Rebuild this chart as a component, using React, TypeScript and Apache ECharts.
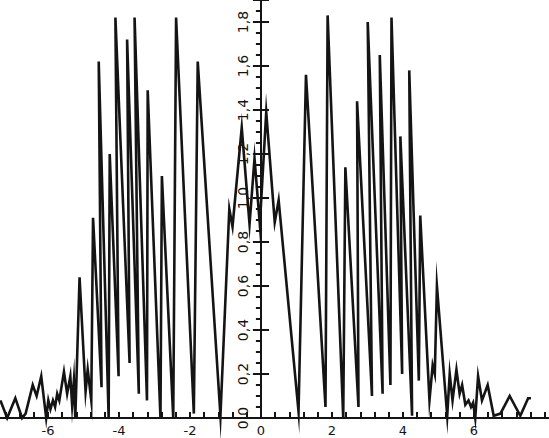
import React, { useEffect, useRef } from "react";
import * as echarts from "echarts";

// Curve (x in axis units, y in axis units), in drawing order
const xValues: number[] = [
  -7.34, -7.15, -6.92, -6.73, -6.63, -6.43, -6.32, -6.19, -6.05, -5.99,
  -5.93, -5.86, -5.80, -5.74, -5.68, -5.55, -5.46, -5.37, -5.32, -5.27,
  -5.23, -5.11, -4.94, -4.88, -4.78, -4.73, -4.49, -4.57, -4.29, -4.26,
  -4.01, -4.10, -3.70, -3.77, -3.44, -3.56, -3.21, -3.19, -2.83, -2.79,
  -2.47, -2.39, -1.89, -1.78, -1.14, -0.89, -0.80, -0.54, -0.32, -0.18,
  -0.03, 0.15, 0.39, 0.50, 1.06, 1.27, 1.82, 1.88, 2.32, 2.38,
  2.75, 2.71, 3.13, 3.01, 3.43, 3.35, 3.65, 3.68, 3.98, 3.93,
  4.26, 4.18, 4.45, 4.49, 4.75, 4.84, 4.90, 4.96, 5.25, 5.32,
  5.40, 5.51, 5.60, 5.67, 5.76, 5.85, 5.92, 5.98, 6.04, 6.12,
  6.23, 6.39, 6.56, 6.75, 7.01, 7.31, 7.53, 7.61,
];
const yValues: number[] = [
  0.08, 0.0, 0.09, 0.0, 0.02, 0.15, 0.10, 0.19, 0.0, 0.08,
  0.04, 0.08, 0.05, 0.11, 0.08, 0.21, 0.11, 0.19, 0.06, 0.17,
  0.0, 0.64, 0.12, 0.22, 0.08, 0.91, 0.14, 1.62, 0.0, 1.20,
  0.19, 1.82, 0.25, 1.72, 0.11, 1.82, 0.08, 1.49, 0.0, 1.10,
  0.0, 1.82, 0.02, 1.62, 0.01, 0.95, 0.87, 1.32, 0.88, 1.18,
  0.88, 1.39, 0.89, 0.99, 0.03, 1.56, 0.05, 1.83, 0.0, 1.14,
  0.05, 1.44, 0.10, 1.80, 0.11, 1.65, 0.15, 1.82, 0.20, 1.28,
  0.01, 1.58, 0.17, 0.92, 0.08, 0.24, 0.20, 0.60, 0.01, 0.20,
  0.08, 0.22, 0.11, 0.15, 0.06, 0.08, 0.05, 0.07, 0.0, 0.19,
  0.08, 0.15, 0.01, 0.02, 0.10, 0.01, 0.09, 0.09,
];

const xTickLabels: number[] = [-6, -4, -2, 0, 2, 4, 6];
const yTickLabels: number[] = [0, 0.2, 0.4, 0.6, 0.8, 1.0, 1.2, 1.4, 1.6, 1.8];

const INK = "#141414";
const FONT = "DejaVu Sans";

// layout of the plot frame inside the page
const PX_PER_UNIT = 35.5;
const ZERO_X = 260.5;
const X_MIN = -8;
const X_MAX = 8.4;
const FRAME_LEFT = ZERO_X + X_MIN * PX_PER_UNIT; // page x of X_MIN
const FRAME_WIDTH = (X_MAX - X_MIN) * PX_PER_UNIT;

export default function App() {
  const ref = useRef<HTMLDivElement>(null);

  useEffect(() => {
    if (!ref.current) return;
    const chart = echarts.init(ref.current, undefined, { renderer: "svg" });
    const points = xValues.map((x, i) => [x, yValues[i]]);
    const showX = (v: number) => xTickLabels.some((t) => Math.abs(t - v) < 1e-6);
    const showY = (v: number) => yTickLabels.some((t) => Math.abs(t - v) < 1e-6);
    const yOffset = -(ZERO_X - FRAME_LEFT);

    chart.setOption({
      animation: false,
      backgroundColor: "#ffffff",
      grid: {
        left: 0,
        right: 0,
        top: 0,
        bottom: 20,
        containLabel: false,
        outerBoundsMode: "none",
      },
      xAxis: {
        type: "value",
        min: X_MIN,
        max: X_MAX,
        interval: 2,
        axisLine: { show: true, onZero: false, lineStyle: { color: INK, width: 2 } },
        axisTick: { show: true, inside: true, length: 6, lineStyle: { color: INK, width: 2 } },
        minorTick: { show: true, splitNumber: 5, length: 6, lineStyle: { color: INK, width: 2 } },
        splitLine: { show: false },
        axisLabel: {
          show: true,
          margin: 6,
          color: INK,
          fontFamily: FONT,
          fontSize: 13,
          formatter: (v: number) => (showX(v) ? String(v) : ""),
        },
      },
      yAxis: [
        {
          type: "value",
          min: 0,
          max: 1.9,
          interval: 0.2,
          axisLine: { show: true, onZero: true, lineStyle: { color: INK, width: 2 } },
          axisTick: { show: true, inside: false, length: 8, lineStyle: { color: INK, width: 2 } },
          minorTick: { show: true, splitNumber: 4, length: 5, lineStyle: { color: INK, width: 2 } },
          splitLine: { show: false },
          axisLabel: { show: false },
        },
        {
          type: "value",
          position: "left",
          offset: yOffset,
          min: 0,
          max: 1.9,
          interval: 0.2,
          axisLine: { show: false, onZero: false },
          axisTick: { show: true, inside: true, length: 8, lineStyle: { color: INK, width: 2 } },
          splitLine: { show: false },
          axisLabel: {
            show: true,
            rotate: 90,
            margin: 11,
            color: INK,
            fontFamily: FONT,
            fontSize: 14,
            formatter: (v: number) => (showY(v) ? v.toFixed(1).replace(".", ",") : ""),
          },
        },
      ],
      series: [
        {
          type: "line",
          xAxisIndex: 0,
          yAxisIndex: 0,
          data: points,
          showSymbol: false,
          symbol: "none",
          clip: false,
          lineStyle: { color: INK, width: 2.6, join: "miter", miterLimit: 20 },
        },
      ],
    });
    return () => chart.dispose();
  }, []);

  return (
    <div
      style={{
        position: "fixed",
        left: 0,
        top: 0,
        width: 549,
        height: 438,
        overflow: "hidden",
        background: "#fff",
      }}
    >
      <div
        ref={ref}
        style={{ position: "absolute", left: FRAME_LEFT, top: 0, width: FRAME_WIDTH, height: 438 }}
      />
    </div>
  );
}
